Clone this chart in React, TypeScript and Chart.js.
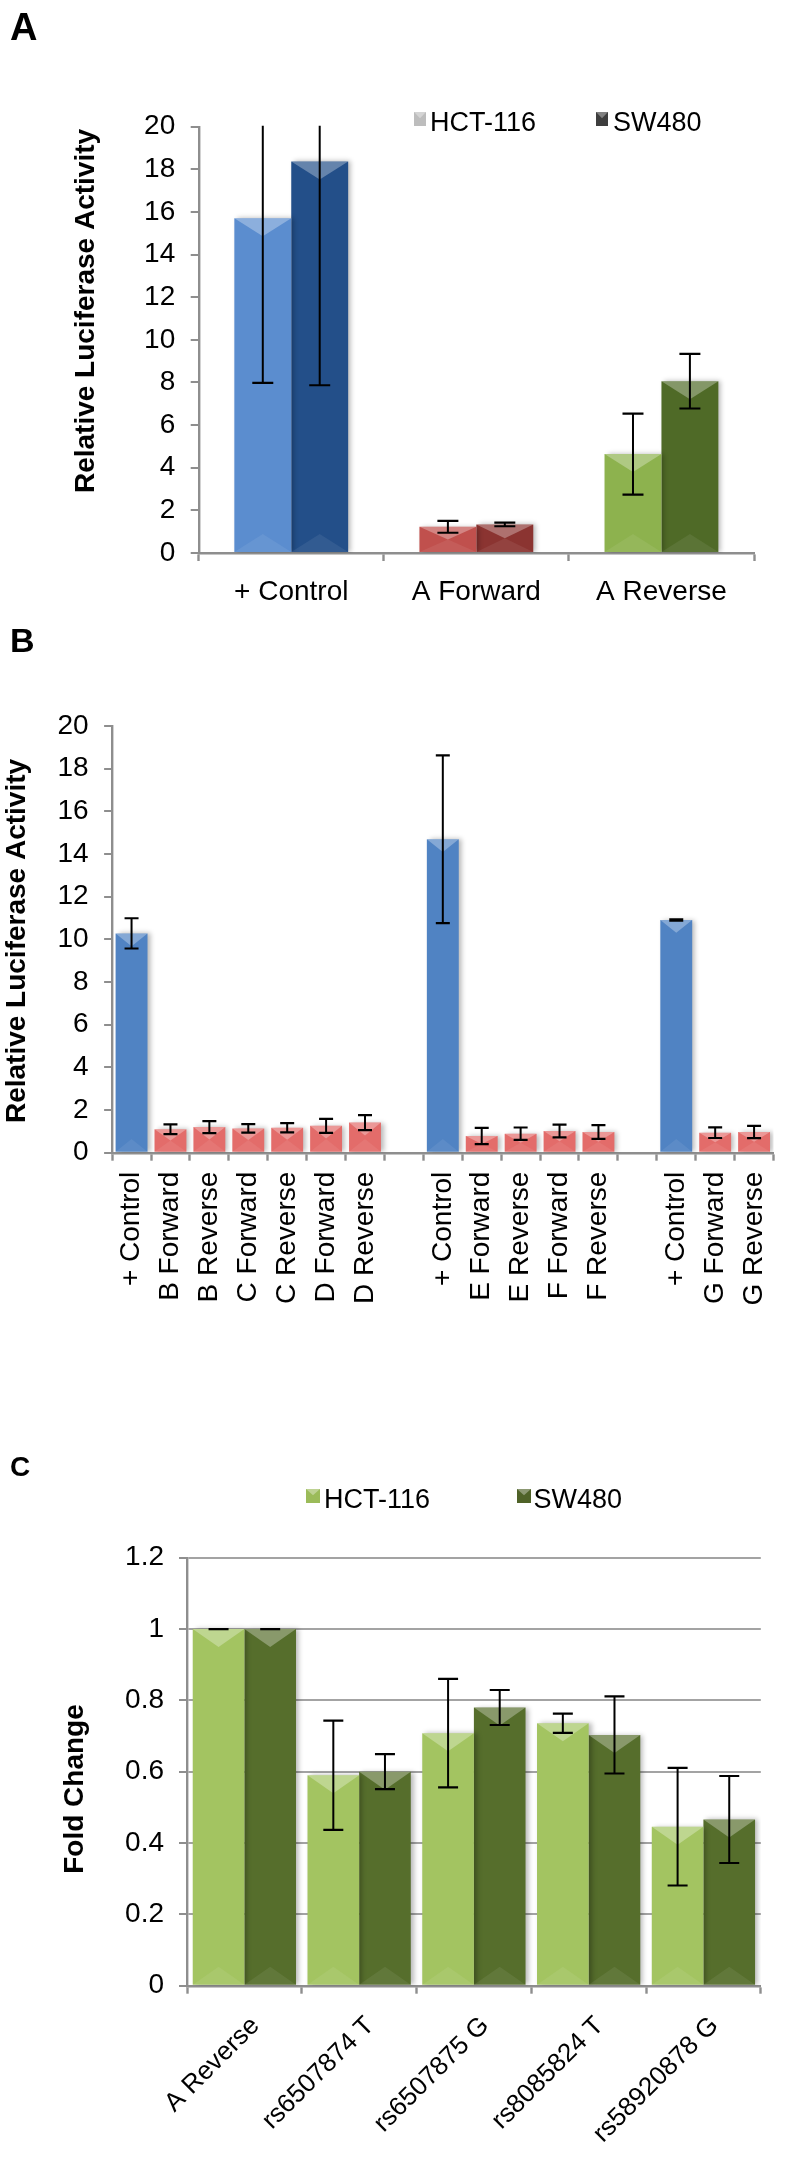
import React, { useEffect, useRef } from 'react';
import { Chart, registerables } from 'chart.js';

Chart.register(...registerables);

const W = 799;
const FONT = "'Liberation Sans', Arial, Helvetica, sans-serif";

// ---------- Panel A ----------
const categoriesA = ['+ Control', 'A Forward', 'A Reverse'];
const seriesA = ['HCT-116', 'SW480'];
const hctA = [15.7, 1.23, 4.64];
const hctErrA = [7.72, 0.28, 1.9];
const swA = [18.37, 1.34, 8.06];
const swErrA = [10.5, 0.085, 1.28];
const yTicksA = ['0', '2', '4', '6', '8', '10', '12', '14', '16', '18', '20'];

// ---------- Panel B ----------
const categoriesB = [
  '+ Control', 'B Forward', 'B Reverse', 'C Forward', 'C Reverse', 'D Forward', 'D Reverse', '',
  '+ Control', 'E Forward', 'E Reverse', 'F Forward', 'F Reverse', '',
  '+ Control', 'G Forward', 'G Reverse',
];
const valuesB = [10.28, 1.1, 1.2, 1.14, 1.17, 1.26, 1.41, null, 14.69, 0.78, 0.89, 1.02, 0.97, null, 10.91, 0.94, 0.97];
const errB = [0.71, 0.23, 0.28, 0.2, 0.22, 0.33, 0.35, null, 3.93, 0.38, 0.29, 0.3, 0.32, null, 0.03, 0.25, 0.29];
const yTicksB = ['0', '2', '4', '6', '8', '10', '12', '14', '16', '18', '20'];

// ---------- Panel C ----------
const categoriesC = ['A Reverse', 'rs6507874 T', 'rs6507875 G', 'rs8085824 T', 'rs58920878 G'];
const seriesC = ['HCT-116', 'SW480'];
const hctC = [1, 0.59, 0.708, 0.736, 0.446];
const hctErrC = [0, 0.153, 0.152, 0.027, 0.165];
const swC = [1, 0.6, 0.78, 0.703, 0.466];
const swErrC = [0, 0.049, 0.049, 0.108, 0.122];
const yTicksC = ['0', '0.2', '0.4', '0.6', '0.8', '1', '1.2'];

// colours
const hctColorsA = ['#5b8dcf', '#c0504d', '#8db24e'];
const swColorsA = ['#234f89', '#8b3431', '#4f6a27'];
const controlBlue = '#5083c3';
const samplePink = '#e36c6a';
const hctGreen = '#a3c461';
const swGreen = '#566e2c';
const axisGray = '#8e8e8e';

const decoPlugin = {
  id: 'deco',
  beforeDatasetsDraw(chart: any) {
    const ctx = chart.ctx;
    ctx.save();
    ctx.shadowColor = 'rgba(0,0,0,0.28)';
    ctx.shadowBlur = 5;
    ctx.shadowOffsetX = 3;
    ctx.shadowOffsetY = 0;
  },
  afterDatasetsDraw(chart: any, _args: any, opts: any) {
    const ctx = chart.ctx;
    ctx.restore();
    const area = chart.chartArea;
    const yScale = chart.scales.y;
    ctx.save();
    ctx.beginPath();
    ctx.rect(area.left - 40, area.top - 1, area.right - area.left + 80, area.bottom - area.top + 1);
    ctx.clip();
    // bevel highlights
    chart.data.datasets.forEach((ds: any, di: number) => {
      const meta = chart.getDatasetMeta(di);
      meta.data.forEach((bar: any, i: number) => {
        if (ds.data[i] == null) return;
        const { x, y, base, width } = bar.getProps(['x', 'y', 'base', 'width'], true);
        const h = base - y;
        const d = Math.min(width * 0.4, 18, h / 2);
        ctx.fillStyle = 'rgba(255,255,255,0.30)';
        ctx.beginPath();
        ctx.moveTo(x - width / 2, y);
        ctx.lineTo(x + width / 2, y);
        ctx.lineTo(x, y + d);
        ctx.closePath();
        ctx.fill();
        ctx.fillStyle = 'rgba(255,255,255,0.07)';
        ctx.beginPath();
        ctx.moveTo(x - width / 2, base);
        ctx.lineTo(x + width / 2, base);
        ctx.lineTo(x, base - d);
        ctx.closePath();
        ctx.fill();
      });
    });
    // error bars
    const capHalf = (opts && opts.capHalf) || 8;
    ctx.strokeStyle = '#000';
    chart.data.datasets.forEach((ds: any, di: number) => {
      const meta = chart.getDatasetMeta(di);
      meta.data.forEach((bar: any, i: number) => {
        const v = ds.data[i];
        const e = ds.errors ? ds.errors[i] : null;
        if (v == null || e == null) return;
        const { x } = bar.getProps(['x'], true);
        const yHi = yScale.getPixelForValue(v + e);
        const yLo = yScale.getPixelForValue(v - e);
        ctx.lineWidth = 2;
        ctx.beginPath();
        ctx.moveTo(x, yHi);
        ctx.lineTo(x, yLo);
        ctx.stroke();
        ctx.lineWidth = 2.2;
        ctx.beginPath();
        ctx.moveTo(x - capHalf, yHi);
        ctx.lineTo(x + capHalf, yHi);
        ctx.moveTo(x - capHalf, yLo);
        ctx.lineTo(x + capHalf, yLo);
        ctx.stroke();
      });
    });
    ctx.restore();
  },
};

const legendPlugin = {
  id: 'boxLegend',
  afterDraw(chart: any, _args: any, opts: any) {
    if (!opts || !opts.items) return;
    const ctx = chart.ctx;
    ctx.save();
    ctx.font = `${opts.size}px ${FONT}`;
    ctx.textBaseline = 'alphabetic';
    ctx.textAlign = 'left';
    chart.data.datasets.forEach((ds: any, i: number) => {
      const it = opts.items[i];
      if (!it) return;
      ctx.fillStyle = it.color;
      ctx.fillRect(it.boxX, opts.boxY, opts.boxW, opts.boxH);
      ctx.fillStyle = 'rgba(255,255,255,0.35)';
      ctx.beginPath();
      ctx.moveTo(it.boxX, opts.boxY);
      ctx.lineTo(it.boxX + opts.boxW, opts.boxY);
      ctx.lineTo(it.boxX + opts.boxW / 2, opts.boxY + opts.boxH * 0.45);
      ctx.closePath();
      ctx.fill();
      ctx.fillStyle = '#000';
      ctx.fillText(ds.label, it.textX, opts.baseline);
    });
    ctx.restore();
  },
};

const sideTitlePlugin = {
  id: 'sideTitle',
  afterDraw(chart: any, _args: any, opts: any) {
    if (!opts || !opts.text) return;
    const ctx = chart.ctx;
    ctx.save();
    ctx.translate(opts.x, opts.y);
    ctx.rotate(-Math.PI / 2);
    ctx.font = `bold ${opts.size}px ${FONT}`;
    ctx.fillStyle = '#000';
    ctx.textAlign = 'center';
    ctx.textBaseline = 'middle';
    ctx.fillText(opts.text, 0, 0);
    ctx.restore();
  },
};

function yScale(max: number, step: number, labels: string[], left: number, padding: number, gridOnArea: boolean) {
  return {
    min: 0,
    max,
    afterFit: (s: any) => {
      s.width = left;
    },
    ticks: {
      stepSize: step,
      padding,
      color: '#000',
      font: { family: FONT, size: 28 },
      callback: (value: number) => labels[Math.round(value / step)],
    },
    grid: {
      display: true,
      drawOnChartArea: gridOnArea,
      color: '#a3a3a3',
      lineWidth: 2,
      drawTicks: true,
      tickLength: 8,
      tickColor: axisGray,
      tickWidth: 2,
    },
    border: { display: true, color: axisGray, width: 2.4 },
  };
}

function xScale(height: number, rotation: number, padding: number, size: number, labelOffset: number) {
  return {
    afterFit: (s: any) => {
      s.height = height;
    },
    ticks: {
      autoSkip: false,
      minRotation: rotation,
      maxRotation: rotation,
      padding,
      labelOffset,
      color: '#000',
      font: { family: FONT, size },
    },
    grid: {
      display: true,
      drawOnChartArea: false,
      drawTicks: true,
      tickLength: 8,
      tickColor: axisGray,
      tickWidth: 2.4,
    },
    border: { display: true, color: axisGray, width: 2.4 },
  };
}

function buildA(): any {
  return {
    type: 'bar',
    data: {
      labels: categoriesA,
      datasets: [
        { label: seriesA[0], data: hctA, errors: hctErrA, backgroundColor: hctColorsA },
        { label: seriesA[1], data: swA, errors: swErrA, backgroundColor: swColorsA },
      ],
    },
    options: {
      responsive: false,
      animation: false,
      layout: { padding: { top: 126.7, right: W - 754, left: 0, bottom: 0 } },
      datasets: { bar: { categoryPercentage: 0.615, barPercentage: 1 } },
      plugins: {
        legend: { display: false },
        tooltip: { enabled: false },
        deco: { capHalf: 10.5 },
        boxLegend: {
          size: 27,
          boxY: 112,
          boxW: 12,
          boxH: 14,
          baseline: 131,
          items: [
            { boxX: 414, textX: 430, color: '#bdbdbd' },
            { boxX: 596, textX: 613, color: '#3e3e3e' },
          ],
        },
        sideTitle: { text: 'Relative Luciferase Activity', x: 86, y: 311, size: 28 },
      },
      scales: {
        x: xScale(640 - 553, 0, 14, 28, 0),
        y: yScale(20, 2, yTicksA, 198.7, 15.5, false),
      },
    },
    plugins: [decoPlugin, legendPlugin, sideTitlePlugin],
  };
}

function buildB(): any {
  return {
    type: 'bar',
    data: {
      labels: categoriesB,
      datasets: [
        {
          label: 'Relative Luciferase Activity',
          data: valuesB,
          errors: errB,
          backgroundColor: categoriesB.map((c) => (c === '+ Control' ? controlBlue : samplePink)),
        },
      ],
    },
    options: {
      responsive: false,
      animation: false,
      layout: { padding: { top: 86, right: W - 788, left: 0, bottom: 0 } },
      datasets: { bar: { categoryPercentage: 0.82, barPercentage: 1 } },
      plugins: {
        legend: { display: false },
        tooltip: { enabled: false },
        deco: { capHalf: 7 },
        sideTitle: { text: 'Relative Luciferase Activity', x: 17.5, y: 301, size: 28 },
      },
      scales: {
        x: xScale(690 - 512.7, 90, 11, 28, 0),
        y: yScale(20, 2, yTicksB, 112.1, 15.5, false),
      },
    },
    plugins: [decoPlugin, sideTitlePlugin],
  };
}

function buildC(): any {
  return {
    type: 'bar',
    data: {
      labels: categoriesC,
      datasets: [
        { label: seriesC[0], data: hctC, errors: hctErrC, backgroundColor: hctGreen },
        { label: seriesC[1], data: swC, errors: swErrC, backgroundColor: swGreen },
      ],
    },
    options: {
      responsive: false,
      animation: false,
      layout: { padding: { top: 227.7, right: W - 760.8, left: 0, bottom: 0 } },
      datasets: { bar: { categoryPercentage: 0.9, barPercentage: 1 } },
      plugins: {
        legend: { display: false },
        tooltip: { enabled: false },
        deco: { capHalf: 10 },
        boxLegend: {
          size: 27,
          boxY: 159,
          boxW: 14,
          boxH: 14,
          baseline: 177.7,
          items: [
            { boxX: 306, textX: 324, color: '#9bbb59' },
            { boxX: 517, textX: 533.5, color: '#4f6228' },
          ],
        },
        sideTitle: { text: 'Fold Change', x: 75, y: 459, size: 28 },
      },
      scales: {
        x: xScale(828 - 655.7, 45, 17, 26, 11),
        y: yScale(1.2, 0.2, yTicksC, 187, 15, true),
      },
    },
    plugins: [decoPlugin, legendPlugin, sideTitlePlugin],
  };
}

function ChartPanel({ top, height, build }: { top: number; height: number; build: () => any }) {
  const ref = useRef<HTMLCanvasElement | null>(null);
  useEffect(() => {
    if (!ref.current) return;
    const chart = new Chart(ref.current, build());
    return () => chart.destroy();
  }, []);
  return (
    <canvas
      ref={ref}
      width={W}
      height={height}
      style={{ position: 'absolute', left: 0, top, width: W, height, display: 'block' }}
    />
  );
}

const letterStyle = (top: number, size: number): React.CSSProperties => ({
  position: 'absolute',
  left: 10,
  top,
  margin: 0,
  fontFamily: FONT,
  fontWeight: 'bold',
  fontSize: size,
  lineHeight: 1,
  color: '#000',
});

export default function App() {
  return (
    <div
      style={{
        position: 'absolute',
        left: 0,
        top: 0,
        width: 799,
        height: 2158,
        overflow: 'hidden',
        background: '#fff',
      }}
    >
      <ChartPanel top={0} height={640} build={buildA} />
      <ChartPanel top={640} height={690} build={buildB} />
      <ChartPanel top={1330} height={828} build={buildC} />
      <div style={letterStyle(8, 38)}>A</div>
      <div style={letterStyle(623, 34)}>B</div>
      <div style={letterStyle(1453, 28)}>C</div>
    </div>
  );
}
